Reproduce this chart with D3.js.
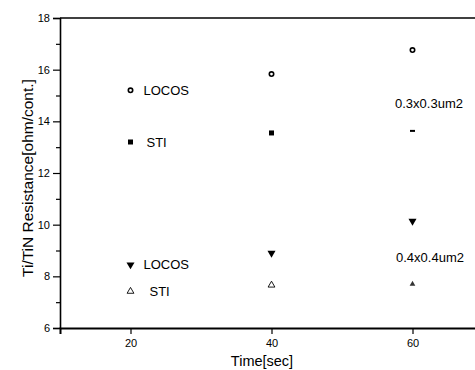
<!DOCTYPE html>
<html>
<head>
<meta charset="utf-8">
<script src="https://cdn.jsdelivr.net/npm/d3@7"></script>
<style>
  html, body { margin: 0; padding: 0; background: #fff; }
  svg { display: block; font-family: "Liberation Sans", Arial, sans-serif; }
</style>
</head>
<body>
<svg id="chart" width="475" height="370"></svg>
<script>
// ---- data ----
const times = [40, 60];
const locos03 = [15.83, 16.76];
const sti03 = [13.55, 13.63];
const locos04 = [8.90, 10.14];
const sti04 = [7.66, 7.70];
const legendTime = 20;
const legendLabels = ["LOCOS", "STI", "LOCOS", "STI"];
const legendValues = [15.2, 13.2, 8.45, 7.42];
const sizeLabels = ["0.3x0.3um2", "0.4x0.4um2"];
const xTicks = [20, 40, 60];
const yTicks = [6, 8, 10, 12, 14, 16, 18];
const yMinor = [7, 9, 11, 13, 15, 17];

(function () {
const svg = d3.select("#chart");
const mLeft = 60, mTop = 18, mBottom = 328, mRight = 483;
const x = d3.scaleLinear().domain([10, 70]).range([mLeft, mRight]);
const y = d3.scaleLinear().domain([6, 18]).range([mBottom, mTop]);

// frame top line
svg.append("line").attr("x1", mLeft).attr("x2", 475).attr("y1", mTop).attr("y2", mTop)
  .attr("stroke", "#000").attr("stroke-width", 1.3);

// y axis
const yAxis = svg.append("g").attr("transform", `translate(${mLeft},0)`)
  .call(d3.axisLeft(y).tickValues(yTicks).tickSize(7).tickPadding(3).tickFormat(d3.format("d")));
yAxis.select(".domain").attr("stroke-width", 1.6);
yAxis.selectAll(".tick line").attr("stroke-width", 1.2);
yAxis.selectAll("text").attr("font-size", 11).attr("fill", "#000")
  .attr("font-family", "Liberation Sans, Arial, sans-serif");
const yAxisMinor = svg.append("g").attr("transform", `translate(${mLeft},0)`)
  .call(d3.axisLeft(y).tickValues(yMinor).tickSize(4).tickFormat(""));
yAxisMinor.select(".domain").remove();
yAxisMinor.selectAll(".tick line").attr("stroke-width", 1.2);

// x axis
const xAxis = svg.append("g").attr("transform", `translate(0,${mBottom})`)
  .call(d3.axisBottom(x).tickValues(xTicks).tickSize(6).tickPadding(5).tickFormat(d3.format("d")));
xAxis.select(".domain").attr("stroke-width", 2);
xAxis.selectAll(".tick line").attr("stroke-width", 1.2);
xAxis.selectAll("text").attr("font-size", 11).attr("fill", "#000")
  .attr("font-family", "Liberation Sans, Arial, sans-serif");

// axis titles
svg.append("text").attr("x", 262).attr("y", 366).attr("text-anchor", "middle")
  .attr("font-size", 14.5).text("Time[sec]");
svg.append("text").attr("transform", `translate(33,${178}) rotate(-90)`)
  .attr("text-anchor", "middle").attr("font-size", 15.5).text("Ti/TiN Resistance[ohm/cont.]");

// marker drawing helpers
const tri = d3.symbol().type(d3.symbolTriangle);
function drawCircle(g, cx, cy) {
  g.append("circle").attr("cx", cx).attr("cy", cy).attr("r", 2.2)
    .attr("fill", "#fff").attr("stroke", "#000").attr("stroke-width", 1.6);
}
function drawSquare(g, cx, cy) {
  g.append("rect").attr("x", cx - 2.5).attr("y", cy - 2.5).attr("width", 5).attr("height", 5).attr("fill", "#000");
}
function drawTriDown(g, cx, cy) {
  g.append("path").attr("d", tri.size(28)()).attr("transform", `translate(${cx},${cy}) rotate(180)`).attr("fill", "#000");
}
function drawTriUp(g, cx, cy) {
  g.append("path").attr("d", tri.size(20)()).attr("transform", `translate(${cx},${cy})`)
    .attr("fill", "#fff").attr("stroke", "#000").attr("stroke-width", 0.9);
}
const marks = svg.append("g");

// series points
times.forEach((t, i) => drawCircle(marks, x(t), y(locos03[i])));
times.forEach((t, i) => {
  if (i === 0) drawSquare(marks, x(t), y(sti03[i]));
  else marks.append("rect").attr("x", x(t) - 2.5).attr("y", y(sti03[i]) - 1).attr("width", 5).attr("height", 2).attr("fill", "#000");
});
times.forEach((t, i) => drawTriDown(marks, x(t), y(locos04[i])));
times.forEach((t, i) => {
  if (i === 0) drawTriUp(marks, x(t), y(sti04[i]));
  else marks.append("path").attr("d", tri.size(14)()).attr("transform", `translate(${x(t)},${y(sti04[i])})`).attr("fill", "#333");
});

// legend
const drawers = [drawCircle, drawSquare, drawTriDown, drawTriUp];
const labelDx = [13, 16, 13, 19];
legendValues.forEach((v, i) => {
  drawers[i](marks, x(legendTime), y(v));
  svg.append("text").attr("x", x(legendTime) + labelDx[i]).attr("y", y(v)).attr("dy", "0.36em")
    .attr("font-size", 13).text(legendLabels[i]);
});

// size annotations
svg.append("text").attr("x", 429).attr("y", y(14.68)).attr("dy", "0.36em").attr("text-anchor", "middle")
  .attr("font-size", 13).text(sizeLabels[0]);
svg.append("text").attr("x", 430).attr("y", y(8.75)).attr("dy", "0.36em").attr("text-anchor", "middle")
  .attr("font-size", 13).text(sizeLabels[1]);
})();
</script>
</body>
</html>
